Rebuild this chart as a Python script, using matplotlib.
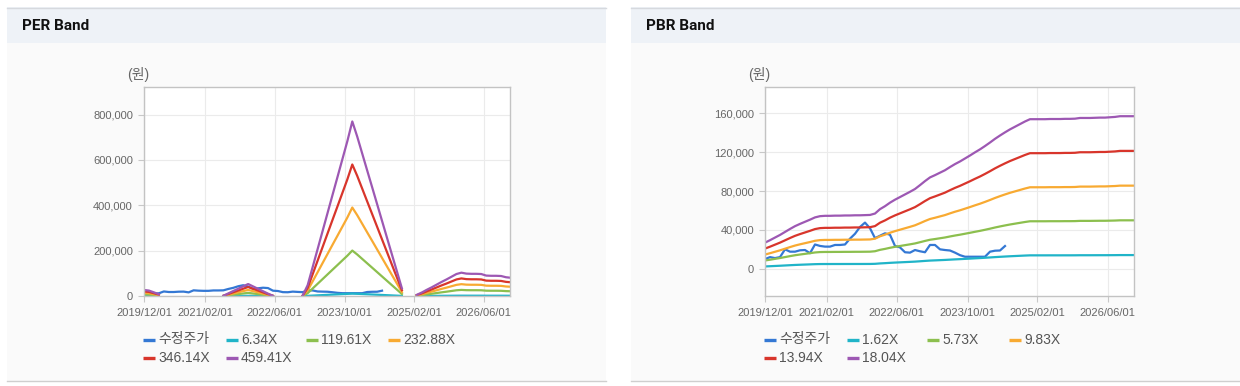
import numpy as np
import matplotlib
matplotlib.use('Agg')
import matplotlib.pyplot as plt
from matplotlib.patches import Rectangle
from matplotlib.ticker import FuncFormatter

plt.rcParams['font.family'] = ['Liberation Sans', 'Noto Sans CJK KR']

# ---------------- data ----------------
x_tick_labels = ['2019/12/01', '2021/02/01', '2022/06/01', '2023/10/01', '2025/02/01', '2026/06/01']
x_tick_pos = [0, 12.3, 26.35, 40.5, 54.45, 68.5]   # period index of each tick

# adjusted share price (수정주가), one value per period
price = [10000, 12000, 11000, 12000, 20000, 17600, 17600, 19000, 19300, 16000,
         25000, 23500, 22800, 22800, 24500, 24500, 25000, 31000, 36000, 43000,
         47500, 41700, 31500, 34000, 36500, 35000, 23500, 22000, 17000, 16600,
         19300, 18000, 17000, 24500, 24500, 20000, 19300, 18800, 16600, 14000,
         12400, 12400, 12400, 12400, 12400, 17600, 18600, 18800, 23400]

# PER band: EPS per period (nan = negative / not shown)
nan = np.nan
eps = [58, 52, 35, 17, nan, nan, nan, nan, nan, nan,
       nan, nan, nan, nan, nan, nan, 2, 25, 48, 70,
       93, 115, 92, 69, 46, 23, 2, nan, nan, nan,
       nan, nan, 5, 104, 276, 449, 622, 795, 968, 1140,
       1313, 1486, 1676, 1530, 1368, 1206, 1045, 883, 721, 559,
       397, 236, 74, nan, nan, 11, 33, 59, 83, 109,
       135, 159, 185, 211, 224, 215, 213, 213, 211, 196,
       194, 194, 192, 180, 175]
per_multiples = [6.34, 119.61, 232.88, 346.14, 459.41]
per_labels = ['6.34X', '119.61X', '232.88X', '346.14X', '459.41X']

# PBR band: BPS per period
bps = [1490, 1630, 1780, 1930, 2100, 2270, 2430, 2560, 2680, 2800,
       2930, 3000, 3020, 3020, 3030, 3030, 3040, 3040, 3050, 3050,
       3060, 3070, 3150, 3400, 3570, 3770, 3940, 4090, 4240, 4390,
       4550, 4770, 5000, 5210, 5340, 5480, 5620, 5800, 5970, 6120,
       6290, 6460, 6640, 6810, 7000, 7200, 7410, 7600, 7780, 7950,
       8100, 8250, 8400, 8530, 8530, 8530, 8530, 8540, 8540, 8540,
       8550, 8550, 8560, 8600, 8600, 8600, 8610, 8620, 8620, 8640,
       8660, 8700, 8700, 8700, 8700]
pbr_multiples = [1.62, 5.73, 9.83, 13.94, 18.04]
pbr_labels = ['1.62X', '5.73X', '9.83X', '13.94X', '18.04X']

price_label = '수정주가'
colors = ['#3478d4', '#20b4c8', '#8cbf4e', '#f8aa32', '#d8352b', '#9d58b3']

# ---------------- figure ----------------
W, H = 1240, 386
fig = plt.figure(figsize=(W / 100, H / 100), dpi=100)
fig.patch.set_facecolor('white')

bg = fig.add_axes([0, 0, 1, 1], zorder=0)
bg.set_xlim(0, W)
bg.set_ylim(H, 0)
bg.axis('off')

panels = [(7, 606, 'PER Band'), (631, 1240, 'PBR Band')]
for x0, x1, title in panels:
    bg.add_patch(Rectangle((x0, 43), x1 - x0, 338, facecolor='#fafafa', edgecolor='none'))
    bg.add_patch(Rectangle((x0, 7), x1 - x0, 36, facecolor='#eef2f7', edgecolor='none'))
    bg.plot([x0, x1], [7.5, 7.5], color='#d6d9de', lw=1.0)
    bg.plot([x0, x1], [381, 381], color='#cfcfcf', lw=1.0)
    bg.text(x0 + 15, 26, title, fontsize=11, fontweight='bold', color='#111111',
            family='Roboto', va='center', ha='left')


def make_axes(left_px, right_px):
    ax = fig.add_axes([left_px / W, 1 - 296 / H, (right_px - left_px) / W, (296 - 87) / H], zorder=1)
    ax.set_facecolor('white')
    return ax


def style_axes(ax, ylim, yticks):
    ax.set_xlim(0, 73.8)
    ax.set_ylim(*ylim)
    ax.set_xticks(x_tick_pos)
    ax.set_xticklabels(x_tick_labels)
    ax.set_yticks(yticks)
    ax.yaxis.set_major_formatter(FuncFormatter(lambda v, p: f'{v:,.0f}'))
    ax.grid(True, color='#ebebeb', lw=0.8)
    ax.set_axisbelow(True)
    for s in ax.spines.values():
        s.set_color('#c3c3c3')
        s.set_linewidth(1.0)
    ax.tick_params(axis='both', colors='#c8c8c8', labelcolor='#666666', labelsize=8,
                   length=4, width=0.8)
    ax.tick_params(axis='x', pad=5)
    ax.tick_params(axis='y', pad=4)


def legend(ax_left, labels):
    col_off = [-1, 82, 162, 244]
    rows = [339.5, 357.5]
    for i, (lab, col) in enumerate(zip(labels, colors)):
        r, c = divmod(i, 4)
        x = ax_left + col_off[c]
        y = rows[r]
        bg.plot([x, x + 12], [y, y], color=col, lw=2.4, solid_capstyle='butt')
        bg.text(x + 15, y, lab, fontsize=10, color='#555555', va='center', ha='left')


lw = 1.6
xs_price = np.arange(len(price))

# ---- PER ----
ax1 = make_axes(144, 510)
style_axes(ax1, (0, 922000), [0, 200000, 400000, 600000, 800000])
ax1.plot(xs_price, price, color=colors[0], lw=lw)
eps_arr = np.array(eps, dtype=float)
xs_band = np.arange(len(eps_arr))
for m, col in zip(per_multiples, colors[1:]):
    ax1.plot(xs_band, eps_arr * m, color=col, lw=lw)
bg.text(138, 74, '(원)', fontsize=10, color='#666666', ha='center', va='center')
legend(144, [price_label] + per_labels)

# ---- PBR ----
ax2 = make_axes(765, 1134)
style_axes(ax2, (-28000, 187000), [0, 40000, 80000, 120000, 160000])
ax2.plot(xs_price, price, color=colors[0], lw=lw)
bps_arr = np.array(bps, dtype=float)
xs_b = np.arange(len(bps_arr))
for m, col in zip(pbr_multiples, colors[1:]):
    ax2.plot(xs_b, bps_arr * m, color=col, lw=lw)
bg.text(759, 74, '(원)', fontsize=10, color='#666666', ha='center', va='center')
legend(765, [price_label] + pbr_labels)

fig.savefig('out.png', dpi=100, facecolor='white')
